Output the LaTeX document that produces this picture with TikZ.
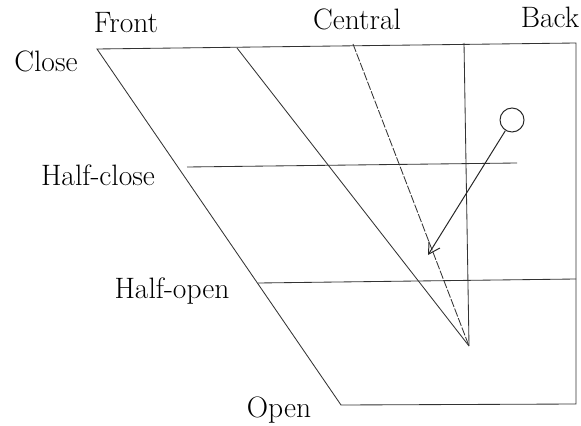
\documentclass[tikz,border=0pt]{standalone}
\usetikzlibrary{arrows.meta}
\tikzstyle{vlabel} = [font=\fontsize{21}{24}\selectfont, anchor=base, inner sep=0pt]
\tikzstyle{grid} = [line width=0.6pt, black!80]
\tikzstyle{arrow} = [line width=0.7pt, black!85, -{Straight Barb[length=2.8mm,width=3.2mm]}]

\begin{document}
\begin{tikzpicture}[x=0.25mm, y=-0.25mm]
\useasboundingbox (0,0) rectangle (581,426);
% corners of the chart
\coordinate (CF) at (97,49);
\coordinate (CB) at (576,43);
\coordinate (OF) at (341,405);
\coordinate (OB) at (576,404);
\coordinate (apex) at (469,346);
\coordinate (F2) at (237,48);
\coordinate (CC) at (353,44);
\coordinate (BI) at (464,43);
\coordinate (HCa) at (187,167);
\coordinate (HCb) at (517,163);
\coordinate (HOa) at (258,283);
\coordinate (HOb) at (576,279);
\coordinate (tip) at (428,255);
% labels
\node (front) [vlabel] at (126,33) {Front};
\node (central) [vlabel] at (357,30) {Central};
\node (back) [vlabel] at (550,28) {Back};
\node (close) [vlabel] at (46,72) {Close};
\node (hclose) [vlabel] at (98,186) {Half-close};
\node (hopen) [vlabel] at (172,298) {Half-open};
\node (open) [vlabel] at (279,417) {Open};
% chart
\draw [grid] (CF) -- (CB) -- (OB) -- (OF) -- cycle;
\draw [grid] (F2) -- (apex);
\draw [grid, dash pattern=on 6pt off 1.2pt] (CC) -- (apex);
\draw [grid] (BI) -- (apex);
\draw [grid] (HCa) -- (HCb);
\draw [grid] (HOa) -- (HOb);
% vowel glide
\node (vowel) [circle, draw, line width=0.7pt, black!85, minimum size=6mm, inner sep=0pt] at (512,120) {};
\draw [arrow] (vowel) -- (tip);
\end{tikzpicture}
\end{document}
